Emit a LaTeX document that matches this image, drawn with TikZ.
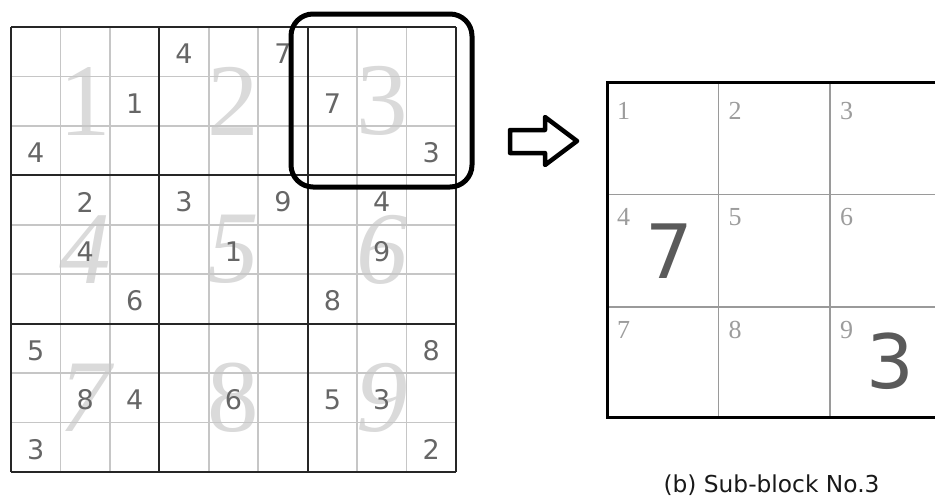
\documentclass[tikz,border=0pt]{standalone}
\usepackage{fontspec}
\newfontfamily\dejavu{DejaVu Sans}
\newfontfamily\libserif{Liberation Serif}
\definecolor{thinline}{HTML}{C6C6C6}
\definecolor{thickline}{HTML}{262626}
\definecolor{givencol}{HTML}{666666}
\definecolor{watercol}{HTML}{DADADA}
\definecolor{smallcol}{HTML}{9C9C9C}
\definecolor{sublinecol}{HTML}{9A9A9A}
\definecolor{bigcol}{HTML}{5A5A5A}
\begin{document}
\begin{tikzpicture}[x=1pt,y=-1pt,
  waterdigit/.style={font=\libserif\fontsize{103}{103}\selectfont, text=watercol, inner sep=0pt},
  givendigit/.style={font=\dejavu\fontsize{27}{27}\selectfont, text=givencol, inner sep=0pt},
  thingrid/.style={draw=thinline, line width=1.5pt},
  thickgrid/.style={draw=thickline, line width=2pt},
  selectbox/.style={draw=black, line width=5pt, rounded corners=22pt},
  outlinearrow/.style={draw=black, line width=4.5pt, line join=round},
  subline/.style={draw=sublinecol, line width=1.5pt},
  subborder/.style={draw=black, line width=3pt},
  smalldigit/.style={font=\libserif\fontsize{26}{26}\selectfont, text=smallcol, inner sep=0pt, anchor=base west},
  bigdigit/.style={font=\dejavu\fontsize{75}{75}\selectfont, text=bigcol, inner sep=0pt, anchor=base west},
  captiontext/.style={font=\dejavu\fontsize{23.3}{23.3}\selectfont, text=black!90, inner sep=0pt, anchor=base}
]
\useasboundingbox (0,0) rectangle (935,496);
\clip (0,0) rectangle (935,496);
\fill[white] (0,0) rectangle (935,496);
\def\cw{49.444}
% watermark block numbers
\foreach \n/\bc/\br/\sh in {1/0/0/\upshape,2/1/0/\upshape,3/2/0/\upshape,4/0/1/\itshape,5/1/1/\itshape,6/2/1/\itshape,7/0/2/\itshape,8/1/2/\upshape,9/2/2/\itshape}
  \node[waterdigit] (w\n) at ({11+(3*\bc+1.5)*\cw},{27+(3*\br+1.5)*\cw}) {\sh\n};
% grid lines
\foreach \i in {1,2,4,5,7,8} {
  \draw[thingrid] ({11+\i*\cw},27) -- ({11+\i*\cw},472);
  \draw[thingrid] (11,{27+\i*\cw}) -- (456,{27+\i*\cw});
}
\foreach \i in {0,3,6,9} {
  \draw[thickgrid] ({11+\i*\cw},27) -- ({11+\i*\cw},472);
  \draw[thickgrid] (11,{27+\i*\cw}) -- (456,{27+\i*\cw});
}
% given digits
\foreach \r/\c/\v in {1/4/4,1/6/7,2/3/1,2/7/7,3/1/4,3/9/3,4/2/2,4/4/3,4/6/9,4/8/4,5/2/4,5/5/1,5/8/9,6/3/6,6/7/8,7/1/5,7/9/8,8/2/8,8/3/4,8/5/6,8/7/5,8/8/3,9/1/3,9/9/2}
  \node[givendigit] (g\r\c) at ({11+(\c-0.5)*\cw},{27+(\r-0.5)*\cw+2}) {\v};
% selection box around block 3
\draw[selectbox] (291,14) rectangle (472,187);
% arrow
\draw[outlinearrow] (510,130) -- (545,130) -- (545,117) -- (577,141) -- (545,165) -- (545,153) -- (510,153) -- cycle;
% sub-block
\draw[subline] (718.5,82) -- (718.5,417);
\draw[subline] (830,82) -- (830,417);
\draw[subline] (607,194.5) -- (945,194.5);
\draw[subline] (607,307) -- (945,307);
\draw[subborder] (950,82) -- (607,82) -- (607,417) -- (950,417);
\foreach \k/\cx/\cy in {1/607/119,2/718.5/119,3/830/119,4/607/225,5/718.5/225,6/830/225,7/607/338,8/718.5/338,9/830/338}
  \node[smalldigit] (s\k) at ({\cx+10},\cy) {\k};
\node[bigdigit] (b7) at (645,278) {7};
\node[bigdigit] (b3) at (866,388) {3};
\node[captiontext] (cap) at (771.5,492) {(b) Sub-block No.3};
\end{tikzpicture}
\end{document}
